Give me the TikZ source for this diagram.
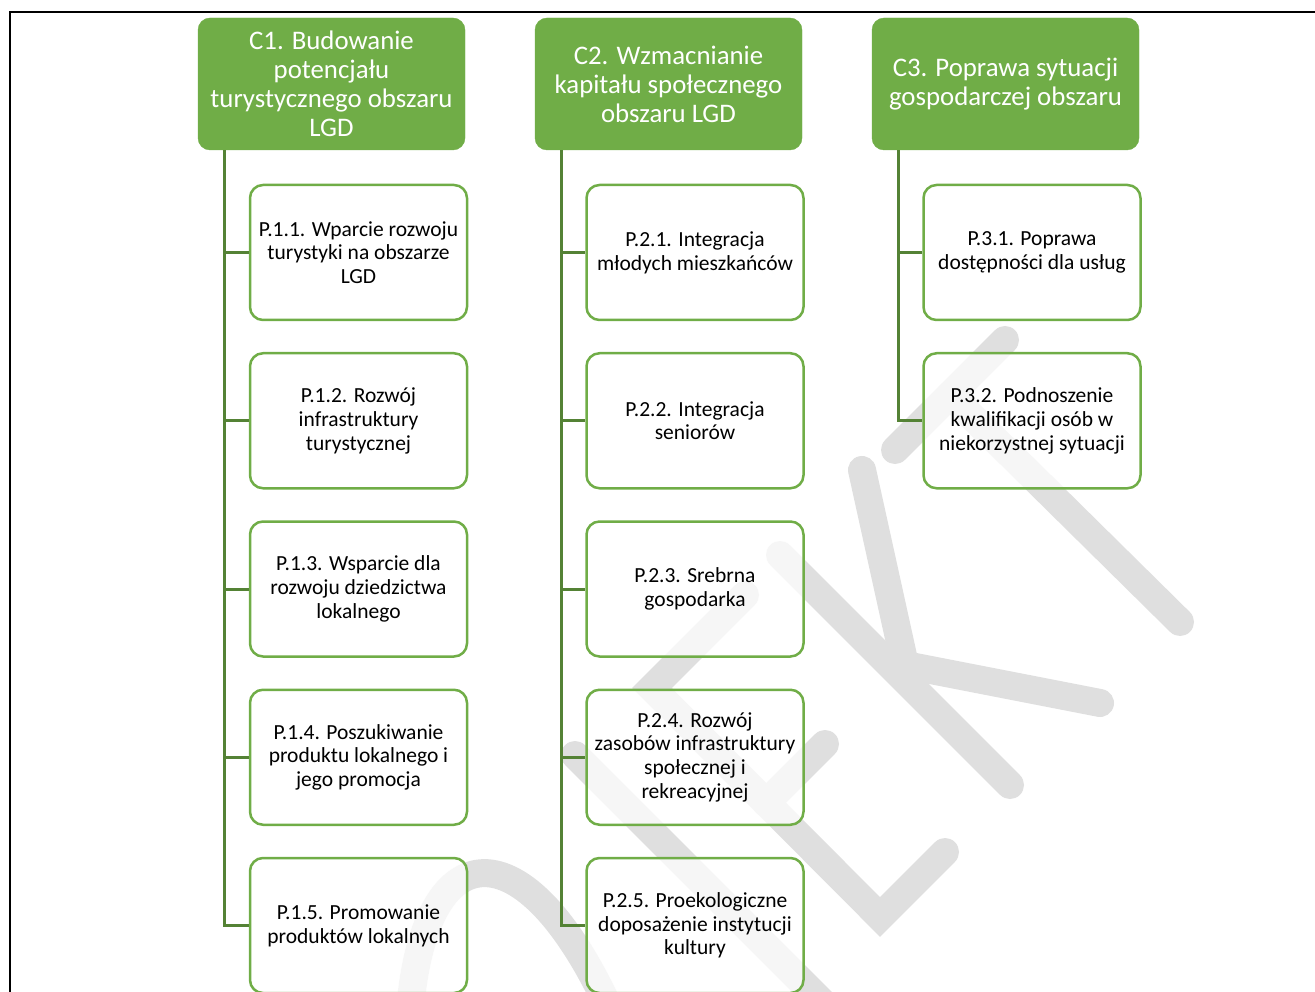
\documentclass[tikz,border=0pt]{standalone}
\usepackage{fontspec}
\setmainfont{Carlito}
\definecolor{hgreen}{RGB}{112,173,71}
\definecolor{cgreen}{RGB}{84,130,53}
\definecolor{wmgray}{RGB}{223,223,223}
\tikzset{
 head/.style={draw=hgreen, fill=hgreen, rounded corners=12pt, minimum width=267pt, minimum height=132pt, inner sep=0pt, align=center, text=white, font=\fontsize{26.8}{29}\selectfont},
 sub/.style={draw=hgreen, line width=2.5pt, fill=white, fill opacity=0.75, text opacity=1, rounded corners=13pt, minimum width=217pt, minimum height=135pt, inner sep=0pt, align=center, text=black, font=\fontsize{21.5}{23.7}\selectfont},
 conn/.style={draw=cgreen, line width=3pt},
 wm/.style={draw=wmgray, line width=28pt, line cap=round, line join=miter},
 frameline/.style={draw=black, line width=2pt}
}
\begin{document}
\begin{tikzpicture}[x=1pt,y=-1pt]
\useasboundingbox (0,0) rectangle (1315,992);
% watermark
\begin{scope}
\clip (0,0) rectangle (1315,992);
\draw[wm] (410,1010) .. controls (425,830) and (525,825) .. (610,1010);
\draw[wm] (575,755) -- (830,1010);
\draw[wm] (745,595) -- (652,688) -- (880,917) -- (945,852);
\draw[wm] (766,803) -- (825,744);
\draw[wm] (780,555) -- (1010,785);
\draw[wm] (862,470) -- (905,665) -- (1100,703);
\draw[wm] (895,450) -- (1005,340);
\draw[wm] (950,395) -- (1180,622);
\end{scope}
% frame
\draw[frameline] (1315,12) -- (10,12) -- (10,992);
% headers
\node[head] (C1) at (331.5,84) {C1. Budowanie\\potencjału\\turystycznego obszaru\\LGD};
\node[head] (C2) at (668.5,84) {C2. Wzmacnianie\\kapitału społecznego\\obszaru LGD};
\node[head] (C3) at (1005.5,84) {C3. Poprawa sytuacji\\gospodarczej obszaru};
% column 1
\node[sub] (P11) at (358.5,252.5) {P.1.1. Wparcie rozwoju\\turystyki na obszarze\\LGD};
\node[sub] (P12) at (358.5,420.75) {P.1.2. Rozwój\\infrastruktury\\turystycznej};
\node[sub] (P13) at (358.5,589) {P.1.3. Wsparcie dla\\rozwoju dziedzictwa\\lokalnego};
\node[sub] (P14) at (358.5,757.25) {P.1.4. Poszukiwanie\\produktu lokalnego i\\jego promocja};
\node[sub] (P15) at (358.5,925.5) {P.1.5. Promowanie\\produktów lokalnych};
% column 2
\node[sub] (P21) at (695,252.5) {P.2.1. Integracja\\młodych mieszkańców};
\node[sub] (P22) at (695,420.75) {P.2.2. Integracja\\seniorów};
\node[sub] (P23) at (695,589) {P.2.3. Srebrna\\gospodarka};
\node[sub] (P24) at (695,757.25) {P.2.4. Rozwój\\zasobów infrastruktury\\społecznej i\\rekreacyjnej};
\node[sub] (P25) at (695,925.5) {P.2.5. Proekologiczne\\doposażenie instytucji\\kultury};
% column 3
\node[sub] (P31) at (1032,252.5) {P.3.1. Poprawa\\dostępności dla usług};
\node[sub] (P32) at (1032,420.75) {P.3.2. Podnoszenie\\kwalifikacji osób w\\niekorzystnej sytuacji};
% connectors
\coordinate (v1) at (224,150);
\coordinate (v2) at (561,150);
\coordinate (v3) at (898,150);
\draw[conn] (v1 |- C1.south) -- (v1 |- P15.west) -- (P15.west);
\foreach \n in {P11,P12,P13,P14} \draw[conn] (v1 |- \n.west) -- (\n.west);
\draw[conn] (v2 |- C2.south) -- (v2 |- P25.west) -- (P25.west);
\foreach \n in {P21,P22,P23,P24} \draw[conn] (v2 |- \n.west) -- (\n.west);
\draw[conn] (v3 |- C3.south) -- (v3 |- P32.west) -- (P32.west);
\draw[conn] (v3 |- P31.west) -- (P31.west);
\end{tikzpicture}
\end{document}
